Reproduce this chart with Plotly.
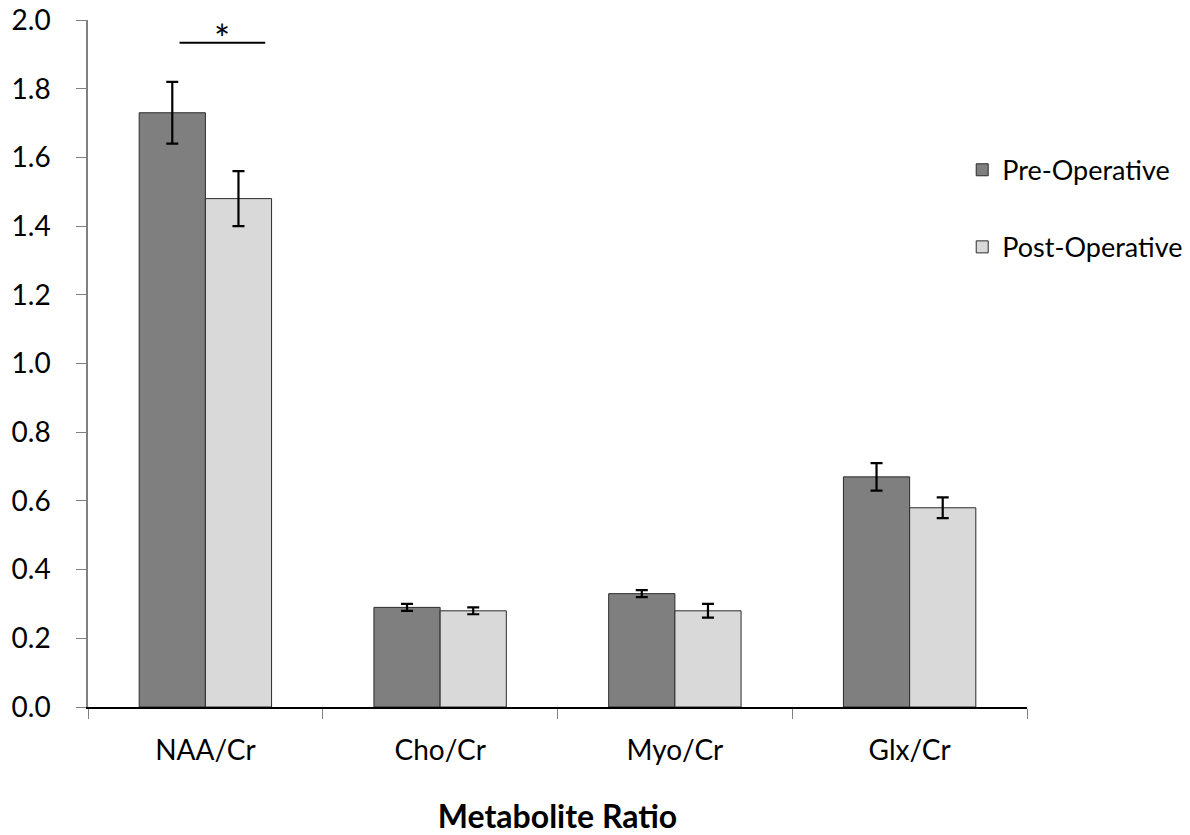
import plotly.graph_objects as go

# Metabolite ratios (mean and error) before and after surgery
categories = ["NAA/Cr", "Cho/Cr", "Myo/Cr", "Glx/Cr"]
pre_values = [1.73, 0.29, 0.33, 0.67]
pre_errors = [0.09, 0.01, 0.01, 0.04]
post_values = [1.48, 0.28, 0.28, 0.58]
post_errors = [0.08, 0.01, 0.02, 0.03]
y_ticks = [0.0, 0.2, 0.4, 0.6, 0.8, 1.0, 1.2, 1.4, 1.6, 1.8, 2.0]

# Significance bracket over the NAA/Cr pair (category-index units)
sig_x0, sig_x1, sig_y = -0.11, 0.255, 1.934

FONT = "Lato"

fig = go.Figure()
fig.add_trace(go.Bar(
    x=categories, y=pre_values, name="Pre-Operative", legendgroup="pre",
    marker=dict(color="#7f7f7f", line=dict(color="#2b2b2b", width=1)),
    error_y=dict(type="data", array=pre_errors, color="black", thickness=2.2, width=6),
))
fig.add_trace(go.Bar(
    x=categories, y=post_values, name="Post-Operative", legendgroup="post",
    marker=dict(color="#d9d9d9", line=dict(color="#2b2b2b", width=1)),
    error_y=dict(type="data", array=post_errors, color="black", thickness=2.2, width=6),
))

fig.add_shape(type="line", xref="x", yref="y", x0=sig_x0, x1=sig_x1, y0=sig_y, y1=sig_y,
              line=dict(color="black", width=2))
fig.add_annotation(x=(sig_x0 + sig_x1) / 2, y=sig_y, xref="x", yref="y", text="*",
                   showarrow=False, yanchor="bottom", yshift=-20,
                   font=dict(family=FONT, size=38, color="black"))

fig.update_layout(
    width=1190, height=835,
    margin=dict(l=88, r=163, t=20, b=128, autoexpand=False),
    paper_bgcolor="white", plot_bgcolor="white",
    barmode="group", bargap=0.436, bargroupgap=0,
    font=dict(family=FONT, color="black"),
    showlegend=True,
    legend=dict(x=0.931, y=0.817, xanchor="left", yanchor="top",
                font=dict(family=FONT, size=27, color="black"),
                traceorder="grouped", tracegroupgap=39,
                bgcolor="rgba(0,0,0,0)"),
    xaxis=dict(
        showline=True, linecolor="black", linewidth=1.5,
        ticks="outside", tickson="boundaries", ticklen=10, tickcolor="#808080",
        ticklabelstandoff=18,
        tickfont=dict(family=FONT, size=28, color="black"),
        title=dict(text="<b>Metabolite Ratio</b>", font=dict(family=FONT, size=32, color="black"),
                   standoff=46),
        range=[-0.5, 3.5], showgrid=False, automargin=False,
    ),
    yaxis=dict(
        range=[0, 2.0], tickvals=y_ticks, ticktext=[f"{v:.1f}" for v in y_ticks],
        showline=True, linecolor="#808080", linewidth=1.5,
        ticks="outside", ticklen=10, tickcolor="#808080",
        ticklabelstandoff=20,
        tickfont=dict(family=FONT, size=28, color="black"),
        showgrid=False, zeroline=False, automargin=False,
    ),
)

fig.write_html("out.html")
